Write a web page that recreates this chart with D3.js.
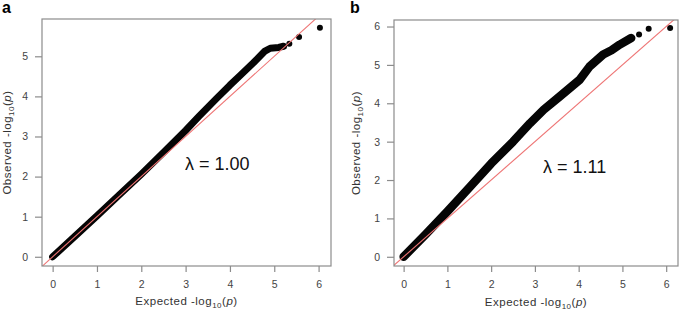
<!DOCTYPE html>
<html>
<head>
<meta charset="utf-8">
<style>
  body { margin: 0; background: #fff; }
  svg { display: block; }
  svg text { font-family: "Liberation Sans", Arial, sans-serif; }
</style>
</head>
<body>
<div class="chart"></div>
<script src="https://d3js.org/d3.v7.min.js"></script>
<script>
  // 資料：QQ plot 主帶 (expected, observed) 與尾端零星點
  const bandExpA = [0, 0.5, 1, 1.5, 2, 2.5, 3, 3.3, 3.7, 4.0, 4.23, 4.53, 4.79, 4.91, 5.1, 5.21]
  const bandObsA = [0, 0.51, 1.02, 1.54, 2.06, 2.6, 3.15, 3.5, 3.95, 4.28, 4.52, 4.84, 5.13, 5.2, 5.22, 5.25]
  const tailExpA = [5.34, 5.56, 6.03]
  const tailObsA = [5.31, 5.48, 5.71]

  const bandExpB = [0, 0.5, 1, 1.5, 2, 2.5, 2.89, 3.2, 3.57, 4.02, 4.25, 4.56, 4.75, 4.94, 5.2]
  const bandObsB = [0, 0.58, 1.18, 1.8, 2.43, 3.0, 3.48, 3.83, 4.18, 4.61, 4.96, 5.27, 5.38, 5.53, 5.7]
  const tailExpB = [5.38, 5.6, 6.09]
  const tailObsB = [5.79, 5.94, 5.96]

  const xTicks = [0, 1, 2, 3, 4, 5, 6]
  const yTicksA = [0, 1, 2, 3, 4, 5]
  const yTicksB = [0, 1, 2, 3, 4, 5, 6]
  const lambdaA = 'λ = 1.00'
  const lambdaB = 'λ = 1.11'

  const width = 685, height = 311

  const svg = d3.select('.chart')
                .append('svg')
                .attr('width', width)
                .attr('height', height)

  const panels = [
    { id: 'a', letterX: 2, left: 42, right: 331, top: 19, bottom: 266,
      xDom: [-0.24, 6.28], yDom: [-0.23, 5.93],
      bandExp: bandExpA, bandObs: bandObsA, tailExp: tailExpA, tailObs: tailObsA,
      yTicks: yTicksA, lambda: lambdaA, lamX: 185, lamY: 170, yTitleX: 11, xTitleY: 305, bandW: 7 },
    { id: 'b', letterX: 350, left: 394, right: 678, top: 20, bottom: 266,
      xDom: [-0.22, 6.27], yDom: [-0.24, 6.17],
      bandExp: bandExpB, bandObs: bandObsB, tailExp: tailExpB, tailObs: tailObsB,
      yTicks: yTicksB, lambda: lambdaB, lamX: 543, lamY: 173, yTitleX: 360, xTitleY: 306, bandW: 8.5 }
  ]

  panels.forEach(p => {
    const g = svg.append('g')

    const xScale = d3.scaleLinear().domain(p.xDom).range([p.left, p.right])
    const yScale = d3.scaleLinear().domain(p.yDom).range([p.bottom, p.top])

    // clip 範圍
    g.append('defs').append('clipPath')
      .attr('id', 'clip-' + p.id)
      .append('rect')
      .attr('x', p.left).attr('y', p.top)
      .attr('width', p.right - p.left).attr('height', p.bottom - p.top)

    // 主帶
    const band = p.bandExp.map((e, i) => [e, p.bandObs[i]])
    const tail = p.tailExp.map((e, i) => [e, p.tailObs[i]])

    g.append('path')
      .datum(band)
      .attr('fill', 'none')
      .attr('stroke', '#050505')
      .attr('stroke-width', p.bandW)
      .attr('stroke-linecap', 'round')
      .attr('stroke-linejoin', 'round')
      .attr('d', d3.line().x(d => xScale(d[0])).y(d => yScale(d[1])))

    g.selectAll('.tail')
      .data(tail)
      .join('circle')
      .attr('class', 'tail')
      .attr('cx', d => xScale(d[0]))
      .attr('cy', d => yScale(d[1]))
      .attr('r', 3)
      .attr('fill', '#050505')

    // y = x 參考線
    g.append('line')
      .attr('clip-path', `url(#clip-${p.id})`)
      .attr('x1', xScale(-1)).attr('y1', yScale(-1))
      .attr('x2', xScale(8)).attr('y2', yScale(8))
      .attr('stroke', '#ee7474')
      .attr('stroke-width', 1.1)

    // 外框
    g.append('rect')
      .attr('x', p.left).attr('y', p.top)
      .attr('width', p.right - p.left).attr('height', p.bottom - p.top)
      .attr('fill', 'none')
      .attr('stroke', '#8c8c8c')
      .attr('stroke-width', 1.2)

    // 軸
    const xAxis = d3.axisBottom(xScale).tickValues(xTicks).tickFormat(d3.format('d'))
                    .tickSize(6).tickSizeOuter(0).tickPadding(9)
    const yAxis = d3.axisLeft(yScale).tickValues(p.yTicks).tickFormat(d3.format('d'))
                    .tickSize(7).tickSizeOuter(0).tickPadding(7)

    const xg = g.append('g').attr('transform', `translate(0,${p.bottom})`).call(xAxis)
    const yg = g.append('g').attr('transform', `translate(${p.left},0)`).call(yAxis)
    ;[xg, yg].forEach(a => {
      a.attr('font-family', null).attr('font-size', null)
      a.select('.domain').remove()
      a.selectAll('line').attr('stroke', '#8c8c8c').attr('stroke-width', 1.2)
      a.selectAll('text').attr('fill', '#444').style('font-size', '10.5px')
    })

    // 軸標題
    const cx = (p.left + p.right) / 2, cy = (p.top + p.bottom) / 2
    const xt = g.append('text')
      .attr('x', cx).attr('y', p.xTitleY)
      .attr('text-anchor', 'middle')
      .attr('fill', '#333')
      .style('font-size', '11.5px')
      .style('letter-spacing', '0.5px')
    addTitle(xt, 'Expected')

    const yt = g.append('text')
      .attr('transform', `translate(${p.yTitleX},${cy}) rotate(-90)`)
      .attr('text-anchor', 'middle')
      .attr('fill', '#333')
      .style('font-size', '11.5px')
      .style('letter-spacing', '0.5px')
    addTitle(yt, 'Observed')

    // λ
    g.append('text')
      .attr('x', p.lamX).attr('y', p.lamY)
      .attr('fill', '#111')
      .style('font-size', '18px')
      .text(p.lambda)

    // 面板字母
    g.append('text')
      .attr('x', p.letterX).attr('y', 13)
      .attr('fill', '#000')
      .style('font-size', '16px')
      .style('font-weight', 'bold')
      .text(p.id)
  })

  function addTitle(t, word) {
    t.append('tspan').text(word + ' -log')
    t.append('tspan').attr('dy', 3).style('font-size', '8px').text('10')
    t.append('tspan').attr('dy', -3).text('(')
    t.append('tspan').style('font-style', 'italic').text('p')
    t.append('tspan').text(')')
  }
</script>
</body>
</html>
